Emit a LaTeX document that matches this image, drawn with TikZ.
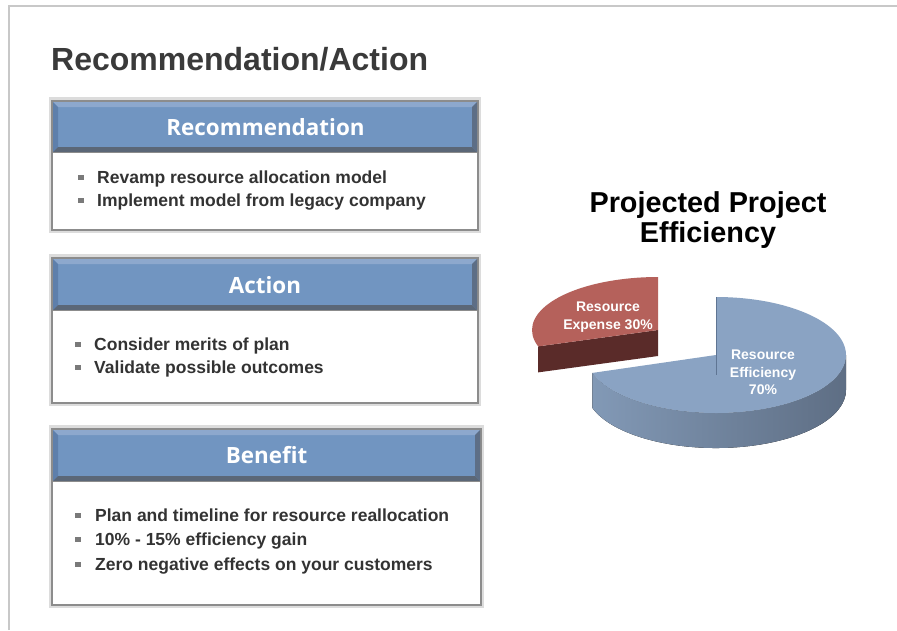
\documentclass[tikz,border=0pt]{standalone}
\usepackage{fontspec}
\setmainfont{Liberation Sans}
\newfontfamily\headfont{Open Sans}
\usetikzlibrary{calc}

\definecolor{framegray}{HTML}{C8C8C8}
\definecolor{titlegray}{HTML}{3A3A3A}
\definecolor{textgray}{HTML}{333333}
\definecolor{bulletgray}{HTML}{7A7A7A}
\definecolor{boxline}{HTML}{8C8C8C}
\definecolor{boxhalo}{HTML}{DCDCDC}
\definecolor{headblue}{HTML}{7195C1}
\definecolor{bevleft}{HTML}{5E7FAB}
\definecolor{bevtop}{HTML}{8DA8CD}
\definecolor{bevright}{HTML}{5D6E86}
\definecolor{bevbottom}{HTML}{5B6777}
\definecolor{pieblue}{HTML}{8AA3C3}
\definecolor{piesideL}{HTML}{8299B6}
\definecolor{piesideR}{HTML}{5E6E84}
\definecolor{bluecut}{HTML}{5F7593}
\definecolor{piered}{HTML}{B5615B}
\definecolor{piereddark}{HTML}{5A2B29}

\begin{document}
\begin{tikzpicture}[x=1pt,y=-1pt,
  bodytext/.style={anchor=base west,inner sep=0pt,text=textgray,font=\fontsize{17.5}{20}\selectfont\bfseries},
  headtext/.style={anchor=base,inner sep=0pt,text=white,font=\headfont\fontsize{22.4}{26}\selectfont\bfseries},
  bulletsq/.style={fill=bulletgray},
  halo/.style={fill=boxhalo},
  boxbody/.style={fill=white,draw=boxline,line width=2.5pt},
  pielabel/.style={anchor=north,inner sep=0pt,align=center,text=white,font=\fontsize{14}{17.5}\selectfont\bfseries}]
\useasboundingbox (0,0) rectangle (897,630);
\fill[white] (0,0) rectangle (897,630);
\draw[framegray,line width=1.5pt] (9,630) -- (9,6) -- (897,6);

\node[anchor=base west,inner sep=0pt,text=titlegray,font=\fontsize{32}{36}\selectfont\bfseries] (title) at (51,70) {Recommendation/Action};

% Recommendation
\fill[halo] (49,97) rectangle (481,233);
\draw[boxbody] (52,101) rectangle (478,230);
\fill[headblue] (53,102) rectangle (477,152);
\fill[bevtop] (53,102) -- (477,102) -- (472,107) -- (58,107) -- cycle;
\fill[bevleft] (53,102) -- (58,107) -- (58,147) -- (53,152) -- cycle;
\fill[bevright] (477,102) -- (477,152) -- (472,147) -- (472,107) -- cycle;
\fill[bevbottom] (53,152) -- (477,152) -- (472,147) -- (58,147) -- cycle;
\draw[boxline,line width=1.5pt] (52,152.5) -- (478,152.5);
\node[headtext] (rechead) at (265.5,135) {Recommendation};
\fill[bulletsq] (78,174.5) rectangle ++(5.5,5.5);
\fill[bulletsq] (78,197.5) rectangle ++(5.5,5.5);
\node[bodytext] (recA) at (97,183) {Revamp resource allocation model};
\node[bodytext] (recB) at (97,206) {Implement model from legacy company};

% Action
\fill[halo] (49,254) rectangle (481,406);
\draw[boxbody] (52,258) rectangle (478,403);
\fill[headblue] (53,259) rectangle (477,310);
\fill[bevtop] (53,259) -- (477,259) -- (472,264) -- (58,264) -- cycle;
\fill[bevleft] (53,259) -- (58,264) -- (58,305) -- (53,310) -- cycle;
\fill[bevright] (477,259) -- (477,310) -- (472,305) -- (472,264) -- cycle;
\fill[bevbottom] (53,310) -- (477,310) -- (472,305) -- (58,305) -- cycle;
\draw[boxline,line width=1.5pt] (52,310.5) -- (478,310.5);
\node[headtext] (acthead) at (265,293) {Action};
\fill[bulletsq] (75,341.5) rectangle ++(5.5,5.5);
\fill[bulletsq] (75,364.5) rectangle ++(5.5,5.5);
\node[bodytext] (actA) at (94,350) {Consider merits of plan};
\node[bodytext] (actB) at (94,373) {Validate possible outcomes};

% Benefit
\fill[halo] (49,425) rectangle (484,608);
\draw[boxbody] (52,429) rectangle (481,605);
\fill[headblue] (53,430) rectangle (480,481);
\fill[bevtop] (53,430) -- (480,430) -- (475,435) -- (58,435) -- cycle;
\fill[bevleft] (53,430) -- (58,435) -- (58,476) -- (53,481) -- cycle;
\fill[bevright] (480,430) -- (480,481) -- (475,476) -- (475,435) -- cycle;
\fill[bevbottom] (53,481) -- (480,481) -- (475,476) -- (58,476) -- cycle;
\draw[boxline,line width=1.5pt] (52,481.5) -- (481,481.5);
\node[headtext] (benhead) at (266.5,463) {Benefit};
\fill[bulletsq] (75,512.5) rectangle ++(5.5,5.5);
\fill[bulletsq] (75,536.5) rectangle ++(5.5,5.5);
\fill[bulletsq] (75,561.5) rectangle ++(5.5,5.5);
\node[bodytext] (benA) at (95,521) {Plan and timeline for resource reallocation};
\node[bodytext] (benB) at (95,545) {10\% - 15\% efficiency gain};
\node[bodytext] (benC) at (95,570) {Zero negative effects on your customers};

% pie chart
\node[anchor=north,inner sep=0pt,align=center,text=black,font=\fontsize{28.8}{30}\selectfont\bfseries] (pietitle) at (708,191) {Projected Project\\Efficiency};

\coordinate (redc) at (658,330);
\coordinate (bluec) at (716,355);
\fill[piereddark] (redc) -- ($(redc)+(162:126 and 53)$) -- ++(0,26) -- ($(redc)+(0,26)$) -- cycle;
\fill[piered] (redc) -- ($(redc)+(-90:126 and 53)$) arc[start angle=-90,end angle=-198,x radius=126,y radius=53] -- cycle;
\fill[left color=piesideL,right color=piesideR] ($(bluec)+(0:130 and 58)$) arc[start angle=0,end angle=162,x radius=130,y radius=58] -- ++(0,35) arc[start angle=162,end angle=0,x radius=130,y radius=58] -- cycle;
\fill[pieblue] (bluec) -- ($(bluec)+(-90:130 and 58)$) arc[start angle=-90,end angle=162,x radius=130,y radius=58] -- cycle;
\draw[bluecut,line width=0.8pt] ($(bluec)+(0,-58)$) -- ($(bluec)+(0,20)$);
\node[pielabel] (expense) at (608,302) {Resource\\Expense 30\%};
\node[pielabel] (efficiency) at (763,350) {Resource\\Efficiency\\70\%};
\end{tikzpicture}
\end{document}
